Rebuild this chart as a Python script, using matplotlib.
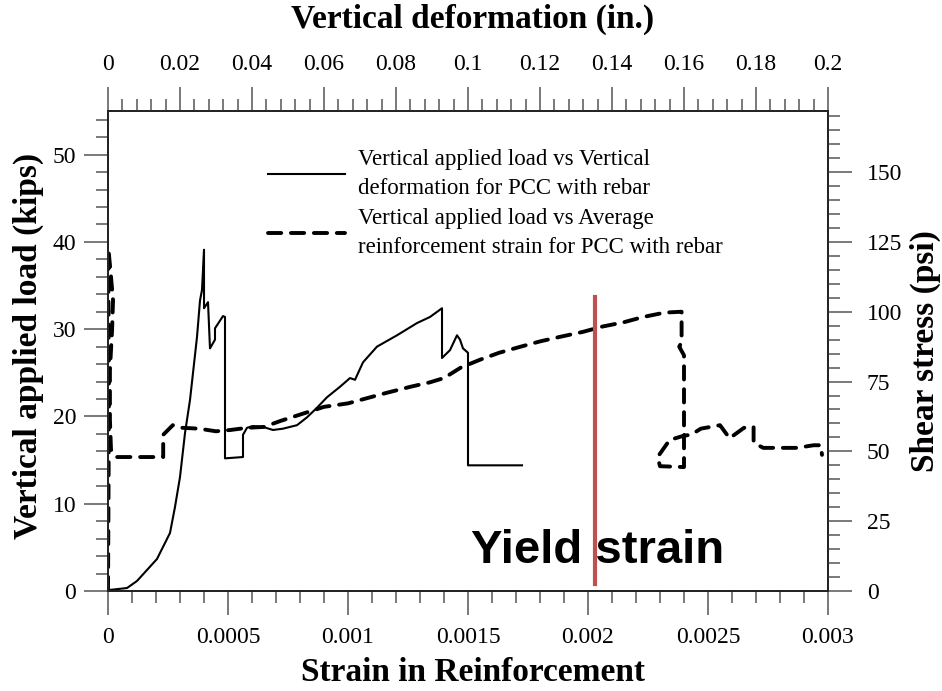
import matplotlib
matplotlib.use('Agg')

import matplotlib.pyplot as plt
from matplotlib.ticker import MultipleLocator, FuncFormatter

# solid curve: load vs vertical deformation (top axis, in.)
deform_in = [0, 0.00528, 0.00806, 0.01361, 0.01722, 0.01861, 0.02, 0.02139, 0.02278,
             0.02472, 0.02556, 0.02611, 0.02667, 0.02667, 0.02778, 0.02833, 0.02972,
             0.02972, 0.03194, 0.0325, 0.0325, 0.0375, 0.0375, 0.03861, 0.04028, 0.04306,
             0.04583, 0.04861, 0.0525, 0.05528, 0.05806, 0.06083, 0.06444, 0.06722,
             0.06861, 0.07083, 0.07472, 0.08028, 0.08583, 0.08944, 0.09278, 0.09278,
             0.095, 0.09694, 0.09778, 0.09861, 0.1, 0.1, 0.115]
load_deform = [0.1, 0.34, 1.15, 3.67, 6.65, 9.63, 13.06, 18.1, 21.9,
               29.1, 33.3, 34.5, 39.1, 32.4, 33.1, 27.8, 28.8,
               30.1, 31.5, 31.4, 15.2, 15.35, 17.9, 18.7, 18.9, 18.8,
               18.45, 18.6, 19.0, 19.9, 21.0, 22.2, 23.4, 24.4,
               24.2, 26.2, 28.0, 29.3, 30.7, 31.4, 32.4, 26.7,
               27.6, 29.3, 28.8, 27.8, 27.3, 14.4, 14.4]

# dashed curve: load vs average reinforcement strain (bottom axis)
strain = [0, 2e-6, 4e-6, 2e-6, 2e-6, 1e-5, 2.1e-5, 1.7e-5, 8e-6, 8e-6, 1.25e-5,
          3.3e-5, 2.3e-4, 2.3e-4, 2.7e-4, 3.1e-4, 3.8e-4, 4.5e-4, 5.1e-4, 5.8e-4,
          6.5e-4, 7.2e-4, 8.1e-4, 9.0e-4, 1.0e-3, 1.08e-3, 1.16e-3, 1.26e-3, 1.34e-3,
          1.40e-3, 1.47e-3, 1.55e-3, 1.63e-3, 1.72e-3, 1.80e-3, 1.88e-3, 1.98e-3,
          2.06e-3, 2.15e-3, 2.23e-3, 2.32e-3, 2.39e-3, 2.39e-3, 2.38e-3, 2.40e-3,
          2.40e-3, 2.30e-3, 2.29e-3, 2.34e-3, 2.40e-3, 2.43e-3, 2.47e-3, 2.55e-3,
          2.59e-3, 2.65e-3, 2.69e-3, 2.69e-3, 2.73e-3, 2.87e-3, 2.94e-3, 2.97e-3,
          2.975e-3]
load_strain = [0.1, 10.4, 21.9, 33.3, 39.1, 36.8, 33.3, 29.9, 25.3, 19.6, 16.2,
               15.35, 15.35, 17.9, 19.0, 18.7, 18.6, 18.3, 18.45, 18.7,
               18.8, 19.5, 20.3, 21.1, 21.5, 22.1, 22.7, 23.4, 23.9,
               24.4, 25.6, 26.5, 27.3, 28.0, 28.6, 29.1, 29.7,
               30.3, 30.8, 31.4, 31.9, 32.0, 28.5, 28.0, 27.0,
               14.2, 14.3, 15.35, 17.3, 17.8, 17.9, 18.6, 19.0,
               17.5, 18.7, 18.8, 17.0, 16.4, 16.4, 16.7, 16.7,
               15.6]

yield_strain = 0.00203
yield_load_range = [0.8, 33.7]

legend_labels = ["Vertical applied load vs Vertical\ndeformation for PCC with rebar",
                 "Vertical applied load vs Average\nreinforcement strain for PCC with rebar"]

load_max = 55
shear_area = 320.0  # in^2, kips -> psi

plt.rcParams['font.family'] = ['Liberation Serif', 'DejaVu Serif']

fig = plt.figure(figsize=(9.42, 6.91), dpi=100)
ax = fig.add_axes([108 / 942, 100 / 691, 720 / 942, 480 / 691])
ax2 = ax.twiny()
ax3 = ax.twinx()

dashed, = ax.plot(strain, load_strain, color='black', lw=2.8,
                  dashes=(3.4, 2.5), dash_capstyle='round')
solid, = ax2.plot(deform_in, load_deform, color='black', lw=1.5)
ax.plot([yield_strain, yield_strain], yield_load_range, color='#C0504D', lw=3)

ax.text(yield_strain + 0.00001, 4.6, 'Yield strain', ha='center', va='center',
        fontsize=34, fontweight='bold', family='Liberation Sans')

ax.set_xlim(0, 0.003)
ax.set_ylim(0, load_max)
ax2.set_xlim(0, 0.2)
ax3.set_ylim(0, load_max * 1000 / shear_area)

fmt = FuncFormatter(lambda v, p: '%g' % round(v, 6))
ax.xaxis.set_major_locator(MultipleLocator(0.0005))
ax.xaxis.set_minor_locator(MultipleLocator(0.0001))
ax.xaxis.set_major_formatter(fmt)
ax.yaxis.set_major_locator(MultipleLocator(10))
ax.yaxis.set_minor_locator(MultipleLocator(2))
ax2.xaxis.set_major_locator(MultipleLocator(0.02))
ax2.xaxis.set_minor_locator(MultipleLocator(0.004))
ax2.xaxis.set_major_formatter(fmt)
ax3.yaxis.set_major_locator(MultipleLocator(25))
ax3.yaxis.set_minor_locator(MultipleLocator(5))

for a in (ax, ax2, ax3):
    a.tick_params(which='major', direction='out', length=17, width=1.1,
                  color='#555555', labelsize=17)
    a.tick_params(which='minor', direction='out', length=8.5, width=1.1,
                  color='#555555')
    for s in a.spines.values():
        s.set_color('#222222')
        s.set_linewidth(1.1)

ax.tick_params(axis='y', which='both', right=False, pad=6)
ax.tick_params(axis='x', which='both', top=False, pad=9)
ax2.tick_params(axis='x', which='both', bottom=False, pad=9)
ax3.tick_params(axis='y', which='both', left=False, pad=11)

lab = dict(fontsize=24, fontweight='bold')
ax.set_xlabel('Strain in Reinforcement', **lab)
ax.set_ylabel('Vertical applied load (kips)', **lab)
ax2.set_xlabel('Vertical deformation (in.)', **lab)
ax3.set_ylabel('Shear stress (psi)', rotation=90, **lab)
ax.xaxis.set_label_coords(0.507, -0.169)
ax.yaxis.set_label_coords(-0.111, 0.51)
ax2.xaxis.set_label_coords(0.507, 1.19)
ax3.yaxis.set_label_coords(1.135, 0.5)
for t in (ax.xaxis.label, ax2.xaxis.label, ax.yaxis.label, ax3.yaxis.label):
    t.set_va('center')
    t.set_ha('center')

leg = ax.legend([solid, dashed], legend_labels, loc='upper left',
                bbox_to_anchor=(0.222, 0.921), frameon=False, fontsize=16.5,
                handlelength=3.36, handletextpad=0.57, labelspacing=0.4,
                borderaxespad=0, borderpad=0)
for t in leg.get_texts():
    t.set_linespacing(1.5)

fig.savefig('out.png', dpi=100)
plt.close(fig)
